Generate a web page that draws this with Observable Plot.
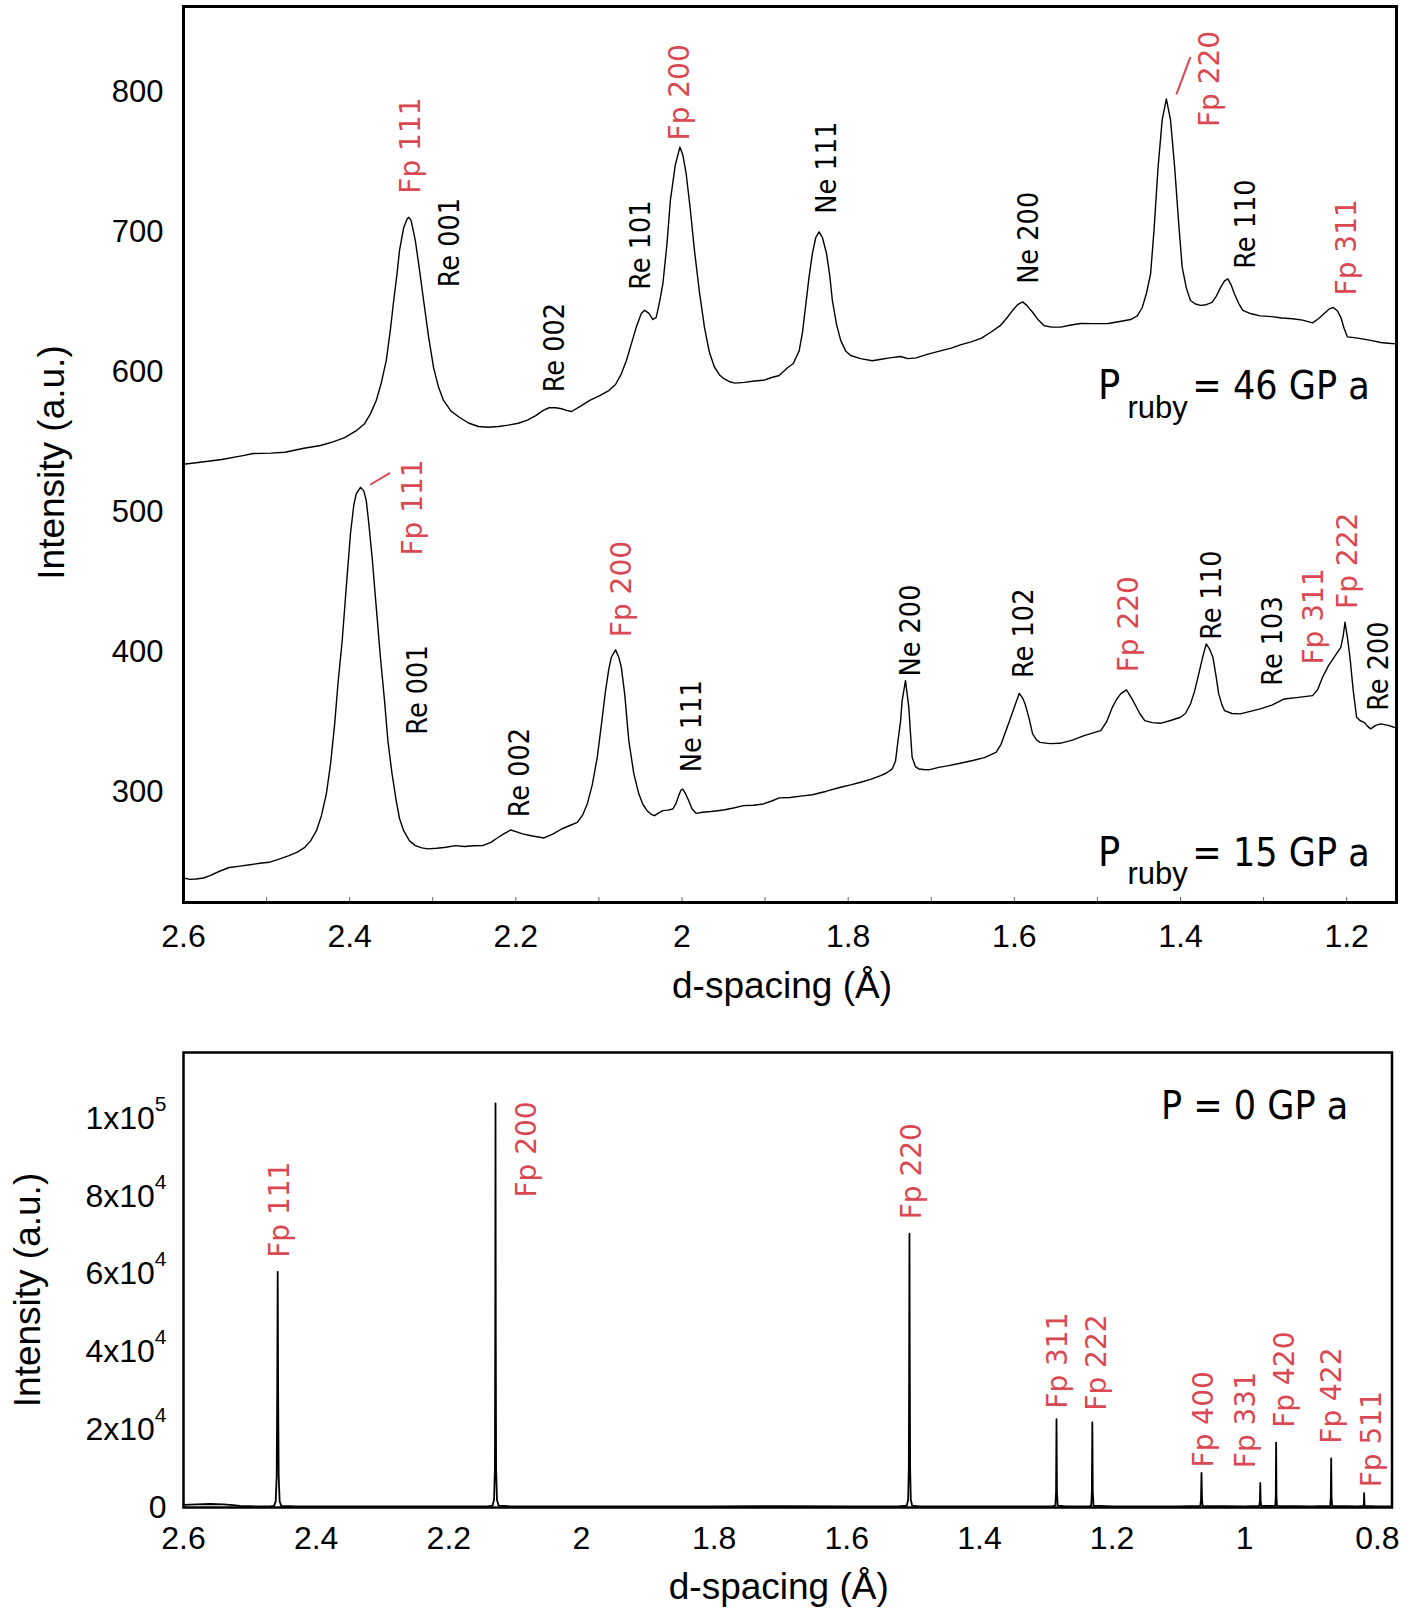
<!DOCTYPE html>
<html>
<head>
<meta charset="utf-8">
<script src="https://cdn.jsdelivr.net/npm/d3@7"></script>
<script src="https://cdn.jsdelivr.net/npm/@observablehq/plot@0.6"></script>
<style>
html, body { margin: 0; padding: 0; background: #fff; }
#chart svg { display: block; }
</style>
</head>
<body>
<div id="chart"></div>
<script>
// ---------------- DATA ----------------
// 46 GPa pattern (d-spacing in Å, intensity a.u.)
const d46 = [2.600,2.580,2.554,2.530,2.516,2.495,2.478,2.455,2.435,2.420,2.406,2.392,2.382,2.375,2.368,2.362,2.356,2.351,2.347,2.343,2.340,2.335,2.331,2.329,2.326,2.321,2.316,2.311,2.305,2.299,2.293,2.287,2.278,2.268,2.257,2.245,2.233,2.221,2.209,2.197,2.186,2.176,2.167,2.160,2.152,2.145,2.139,2.133,2.122,2.111,2.099,2.088,2.080,2.073,2.067,2.061,2.055,2.049,2.045,2.040,2.035,2.031,2.027,2.023,2.018,2.014,2.008,2.0025,1.999,1.995,1.990,1.985,1.979,1.973,1.967,1.961,1.955,1.950,1.943,1.936,1.925,1.913,1.902,1.892,1.883,1.873,1.866,1.859,1.855,1.851,1.847,1.843,1.839,1.835,1.831,1.826,1.822,1.819,1.814,1.809,1.803,1.797,1.785,1.771,1.760,1.750,1.737,1.728,1.718,1.705,1.689,1.676,1.664,1.652,1.640,1.628,1.617,1.609,1.602,1.596,1.590,1.585,1.578,1.571,1.564,1.555,1.544,1.532,1.520,1.505,1.487,1.473,1.460,1.452,1.446,1.441,1.436,1.432,1.427,1.422,1.417,1.412,1.407,1.402,1.398,1.393,1.388,1.382,1.376,1.369,1.362,1.357,1.352,1.347,1.343,1.339,1.335,1.330,1.325,1.315,1.304,1.290,1.278,1.265,1.253,1.241,1.234,1.227,1.221,1.216,1.211,1.207,1.203,1.199,1.191,1.183,1.171,1.159,1.150,1.140];
const i46 = [534,535.5,537.4,540,541.7,542,542.6,545.5,547.4,550,553,558,563,570,579.6,592,608,630,651,670,686.8,703,709,710.5,708,694,673,651,625,603,589,579.6,572,567.6,563.5,561,560.5,561,562,563.3,565.5,568.8,572.5,574.4,574.4,573.7,572.5,571.7,575.5,579.6,583,586.7,591,598.6,608,620,632,641.7,644,642,637.4,639,650,663,692,722.5,748,760.6,755,741.7,716,686.8,657,632,614,603.5,598,595.3,593,592,592.5,593.5,594,596,597.4,603,606,615,628,648,668,684.6,696,700,696,684.6,668,651,634,622.5,615,611.7,609.5,608,609,610,611,609.5,610,612.5,615,617,619.5,621.5,624,628.5,633,638.5,644,648,650,647.5,642.6,637,633,632,632,633.5,634.6,634.5,634.6,636,637.4,640,646,656,670,700,746,780,795,780,746,705,675,660,651,648.5,647.5,648,649.6,654,660,665,666.5,662,655.7,649,644,641.5,640,639.5,638.5,638,637,635,638,641.7,645,646,643.5,639,631,625,624.5,623.8,622.5,621,620.5,620];

// 15 GPa pattern
const d15 = [2.600,2.592,2.585,2.576,2.568,2.556,2.545,2.532,2.520,2.508,2.497,2.485,2.473,2.463,2.454,2.447,2.440,2.434,2.428,2.423,2.418,2.414,2.409,2.404,2.399,2.395,2.392,2.387,2.383,2.380,2.377,2.373,2.368,2.363,2.358,2.354,2.349,2.344,2.340,2.335,2.328,2.321,2.313,2.306,2.295,2.284,2.273,2.262,2.251,2.240,2.230,2.221,2.213,2.206,2.199,2.192,2.180,2.166,2.155,2.145,2.135,2.126,2.120,2.114,2.108,2.102,2.097,2.092,2.088,2.085,2.080,2.076,2.073,2.069,2.064,2.058,2.052,2.047,2.042,2.037,2.033,2.028,2.023,2.017,2.011,2.007,2.004,2.001,1.999,1.996,1.992,1.988,1.983,1.975,1.965,1.950,1.938,1.926,1.914,1.902,1.892,1.883,1.870,1.857,1.843,1.826,1.809,1.797,1.785,1.773,1.761,1.754,1.747,1.743,1.740,1.737,1.735,1.731,1.727,1.725,1.723,1.719,1.715,1.709,1.703,1.691,1.679,1.665,1.650,1.636,1.622,1.616,1.610,1.605,1.600,1.594,1.590,1.587,1.582,1.578,1.573,1.569,1.557,1.545,1.530,1.516,1.506,1.496,1.489,1.482,1.477,1.472,1.465,1.460,1.455,1.449,1.443,1.434,1.424,1.412,1.400,1.394,1.388,1.383,1.378,1.373,1.369,1.365,1.361,1.357,1.354,1.350,1.347,1.338,1.328,1.316,1.304,1.290,1.275,1.258,1.241,1.235,1.229,1.222,1.215,1.207,1.204,1.202,1.199,1.196,1.192,1.188,1.184,1.179,1.175,1.171,1.165,1.159,1.150,1.143,1.140];
const i15 = [238.5,237.5,237.8,238.5,240.2,243.5,246,247,248,249,249.7,252,254.5,257,260.4,265,272.3,283,298.8,320,348.8,378,408,447,484.6,505,513,517.6,515,508,492,467.6,432,396.2,365,336.6,313,293.8,281,272.3,265,261.6,260,259.3,259.8,260.5,261.6,261,261.5,261.6,264,267.6,270.5,272.8,271.5,270,268.5,267.1,270,273.5,276,278.3,283,291.4,305,324.7,348,372.4,388,396.2,401.5,396,389,370,336.6,313,298.6,291,286.6,284,283,285,286.6,287,287.8,292,297.3,301.5,302,299,293.8,288,284.7,285.5,286,287.1,288.5,290.2,290.5,291.4,293.5,295.7,296,297,298,300.5,303.3,305,306.9,309,311.6,313.5,316.4,322,336.6,350,365.2,379.5,360.4,342,324.7,318,316.4,316,315.7,317.5,318.8,320.5,322.4,324.5,328.3,334,343.8,352,360.4,370.4,367,362.8,352,341.4,337,335.4,334.5,334.7,337,340.2,342,343.8,350,360.4,366,370,372.9,368,362.8,356,350.9,349.5,349,351,353.3,356,362.8,372,384.3,397,405.7,402,396.2,382,370,362,358.1,356,355.7,357.5,359.3,362,366.4,367.5,368.8,373,381.9,390,396.2,403.3,412,421.2,410,396.2,372,353.3,351,349.7,347,345,347.5,348.6,347.5,346.2,346];

// 0 GPa pattern
const d0 = [2.600,2.580,2.560,2.540,2.525,2.515,2.490,2.470,2.4635,2.4610,2.4595,2.4587,2.4580,2.4573,2.4565,2.4550,2.4525,2.430,2.300,2.200,2.140,2.1340,2.1318,2.1305,2.1300,2.1296,2.1292,2.1287,2.1274,2.1250,2.110,2.000,1.900,1.800,1.700,1.600,1.520,1.5095,1.5075,1.5065,1.5060,1.5055,1.5050,1.5045,1.5035,1.5015,1.490,1.400,1.290,1.2855,1.2845,1.2838,1.2831,1.2820,1.270,1.235,1.2315,1.2305,1.2298,1.2291,1.2280,1.200,1.100,1.0670,1.0660,1.0652,1.0644,1.0635,1.000,0.9782,0.9772,0.9766,0.9760,0.9750,0.9540,0.9532,0.9527,0.9522,0.9514,0.900,0.8712,0.8703,0.8697,0.8691,0.8682,0.830,0.8210,0.8204,0.8200,0.8196,0.8190,0.800,0.778];
const i0 = [700,800,900,800,600,400,300,300,400,1500,8000,30000,60600,30000,8000,1500,400,300,300,300,350,500,2000,10000,45000,103900,45000,10000,2000,500,350,300,300,300,350,300,350,500,2000,10000,35000,70400,35000,10000,2000,500,300,300,300,500,4000,22700,4000,500,300,300,500,4000,21900,4000,500,300,300,400,2000,8900,2000,400,300,400,1500,6300,1500,400,400,3000,16700,3000,400,300,400,2500,12600,2500,400,300,400,1000,3700,1000,400,300,300];

// Peak labels (anchor d, anchor intensity, text)
const lab46Text = ["Fp 111","Re 001","Re 002","Re 101","Fp 200","Ne 111","Ne 200","Fp 220","Re 110","Fp 311"];
const lab46D    = [2.3258,2.2798,2.1534,2.050,2.0018,1.8261,1.5821,1.3645,1.3207,1.1991];
const lab46I    = [727.3,660.5,585.5,658.7,765.3,713,662.9,774.9,673.7,654.6];

const lab15Text = ["Fp 111","Re 001","Re 002","Fp 200","Ne 111","Ne 200","Re 102","Fp 220","Re 110","Re 103","Fp 311","Fp 222","Re 200"];
const lab15D    = [2.3243,2.3176,2.1955,2.0716,1.9876,1.725,1.589,1.462,1.362,1.289,1.2389,1.1987,1.161];
const lab15I    = [468.8,340.9,281.9,410.5,314,382.4,381.4,385.4,408.6,375.9,391,430.7,358];

const lab0Text = ["Fp 111","Fp 200","Fp 220","Fp 311","Fp 222","Fp 400","Fp 331","Fp 420","Fp 422","Fp 511"];
const lab0D    = [2.4545,2.0814,1.5009,1.2808,1.222,1.0616,0.9977,0.9386,0.8683,0.808];
const lab0I    = [64200,79700,74100,25400,24900,10300,10100,20500,16400,5200];

// leader lines (d1, I1, d2, I2)
const leaderD1 = [1.4049, 2.3753];
const leaderI1 = [798.2, 519.4];
const leaderD2 = [1.3881, 2.3515];
const leaderI2 = [824.9, 527.9];

// pressure annotations
const pressureText = ["= 46 GP a", "= 15 GP a"];
const pressureI    = [581, 247.3];   // baseline of "P"
const subI         = [567.4, 234.3]; // baseline of "ruby"
const pD = 1.4993, subD = 1.4639, eqD = 1.3857;
const p0Text = "P = 0 GP a";
const p0D = 1.1263, p0I = 99800;

// ticks
const topXTicks = [2.6,2.4,2.2,2,1.8,1.6,1.4,1.2];
const topMinor  = [2.5,2.4,2.3,2.2,2.1,2.0,1.9,1.8,1.7,1.6,1.5,1.4,1.3,1.2];
const topYTicks = [300,400,500,600,700,800];
const botXTicks = [2.6,2.4,2.2,2,1.8,1.6,1.4,1.2,1,0.8];
const botYTicks = [0,20000,40000,60000,80000,100000];

// ---------------- BUILD ----------------
const RED = "#da4852";
const AX = "'Liberation Sans', Arial, sans-serif";
const LBL_RED = "'DejaVu Sans', Verdana, sans-serif";
const NARROW = "'Liberation Sans Narrow', 'Arial Narrow', 'DejaVu Sans Condensed', sans-serif";
const fmt = d => `${d}`;

const s46 = d46.map((d, i) => ({d, I: i46[i]}));
const s15 = d15.map((d, i) => ({d, I: i15[i]}));
const s0 = d0.map((d, i) => ({d, I: i0[i]}));
const mk = (T, D, I) => T.map((t, k) => ({t, d: D[k], I: I[k], red: t.startsWith("Fp")}));
const labTop = mk(lab46Text, lab46D, lab46I).concat(mk(lab15Text, lab15D, lab15I));
const labBot = mk(lab0Text, lab0D, lab0I);
const leaders = leaderD1.map((d, k) => ({x1: d, y1: leaderI1[k], x2: leaderD2[k], y2: leaderI2[k]}));
const pRows = pressureText.map((t, k) => ({t, I: pressureI[k], sI: subI[k]}));

const topPlot = Plot.plot({
  width: 1408, height: 1010,
  marginTop: 6, marginLeft: 183, marginRight: 12, marginBottom: 108,
  style: {background: "white", color: "black", overflow: "visible"},
  x: {domain: [2.6, 1.14], label: null},
  y: {domain: [221, 861], label: null},
  marks: [
    Plot.axisX(topXTicks, {tickSize: 0, tickPadding: 22, fontSize: 32, fontFamily: AX, label: null, tickFormat: fmt}),
    Plot.axisY(topYTicks, {tickSize: 0, tickPadding: 20, fontSize: 31, fontFamily: AX, label: null, tickFormat: fmt}),
    Plot.tickX(topMinor, {x: d => d, insetTop: 891, stroke: "#666", strokeWidth: 1}),
    Plot.line(s46, {x: "d", y: "I", stroke: "black", strokeWidth: 1.4}),
    Plot.line(s15, {x: "d", y: "I", stroke: "black", strokeWidth: 1.4}),
    Plot.link(leaders, {x1: "x1", y1: "y1", x2: "x2", y2: "y2", stroke: RED, strokeWidth: 2}),
    Plot.text(labTop.filter(r => r.red), {x: "d", y: "I", text: "t", rotate: -90, textAnchor: "start", fill: RED, fontSize: 28, fontFamily: LBL_RED}),
    Plot.text(labTop.filter(r => !r.red), {x: "d", y: "I", text: "t", rotate: -90, textAnchor: "start", fill: "black", fontSize: 28.5, fontFamily: NARROW}),
    Plot.text(pRows, {x: () => pD, y: "I", text: () => "P", textAnchor: "start", lineAnchor: "bottom", fontSize: 41, fontFamily: NARROW}),
    Plot.text(pRows, {x: () => subD, y: "sI", text: () => "ruby", textAnchor: "start", lineAnchor: "bottom", fontSize: 31, fontFamily: AX}),
    Plot.text(pRows, {x: () => eqD, y: "I", text: "t", textAnchor: "start", lineAnchor: "bottom", fontSize: 39, fontFamily: NARROW}),
    Plot.frame({stroke: "black", strokeWidth: 3}),
    Plot.text(["d-spacing (Å)"], {frameAnchor: "bottom", textAnchor: "middle", lineAnchor: "bottom", dy: 95, dx: -8, fontSize: 37, fontFamily: AX}),
    Plot.text(["Intensity (a.u.)"], {frameAnchor: "left", textAnchor: "middle", rotate: -90, dx: -131, dy: 8, fontSize: 37, fontFamily: AX})
  ]
});

const botPlot = Plot.plot({
  width: 1408, height: 602,
  marginTop: 42, marginLeft: 183, marginRight: 16.5, marginBottom: 105,
  style: {background: "white", color: "black", overflow: "visible"},
  x: {domain: [2.6, 0.778], label: null},
  y: {domain: [0, 117000], label: null},
  marks: [
    Plot.axisX(botXTicks, {tickSize: 0, tickPadding: 19, fontSize: 32, fontFamily: AX, label: null, tickFormat: fmt}),
    Plot.axisY(botYTicks, {tickSize: 0, tickPadding: 17, fontSize: 32, fontFamily: AX, label: null,
      tickFormat: v => v === 0 ? "0" : v >= 100000 ? "1x10^5" : `${v / 10000}x10^4`}),
    Plot.line(s0, {x: "d", y: "I", stroke: "black", strokeWidth: 1.8}),
    Plot.text(labBot, {x: "d", y: "I", text: "t", rotate: -90, textAnchor: "start", fill: RED, fontSize: 28, fontFamily: LBL_RED}),
    Plot.text([p0Text], {x: () => p0D, y: () => p0I, text: d => d, textAnchor: "start", lineAnchor: "bottom", fontSize: 39, fontFamily: NARROW}),
    Plot.frame({stroke: "black", strokeWidth: 2.5}),
    Plot.text(["d-spacing (Å)"], {frameAnchor: "bottom", textAnchor: "middle", lineAnchor: "bottom", dy: 91, dx: -9, fontSize: 37, fontFamily: AX}),
    Plot.text(["Intensity (a.u.)"], {frameAnchor: "left", textAnchor: "middle", rotate: -90, dx: -155, dy: 10, fontSize: 37, fontFamily: AX})
  ]
});

// superscripts for the exponent tick labels
d3.select(botPlot).selectAll('g[aria-label="y-axis tick label"] text').each(function () {
  const parts = this.textContent.split("^");
  if (parts.length === 2) {
    const sel = d3.select(this);
    sel.text(null);
    sel.append("tspan").text(parts[0]);
    sel.append("tspan").attr("dy", -18).attr("font-size", 21).text(parts[1]);
  }
});

const chart = document.getElementById("chart");
chart.appendChild(topPlot);
chart.appendChild(botPlot);
</script>
</body>
</html>
